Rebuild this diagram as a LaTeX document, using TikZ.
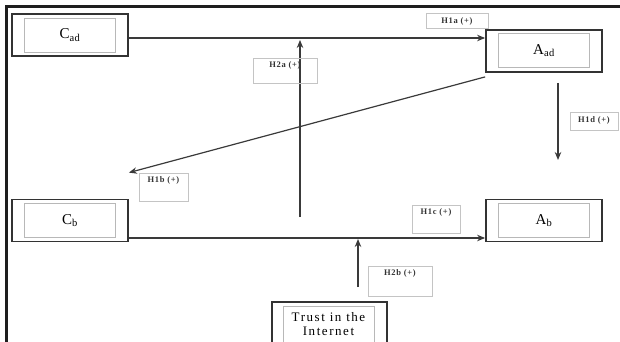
\documentclass[tikz,border=0pt]{standalone}
\usepackage{fontspec}
\setmainfont{Liberation Serif}
\usepackage{tikz}
\usepackage{xcolor}
\usetikzlibrary{arrows.meta}
\definecolor{framecolor}{HTML}{1e1e1e}
\definecolor{boxcolor}{HTML}{333333}
\definecolor{innercolor}{HTML}{b8b8b8}
\definecolor{linkcolor}{HTML}{3a3a3a}
\definecolor{tagcolor}{HTML}{c4c4c4}

\tikzset{
    outerbox/.style = {draw = boxcolor, line width = 1.8pt, rectangle, minimum width = 116pt, minimum height = 42pt},
    innerbox/.style = {draw = innercolor, line width = 0.8pt, rectangle, minimum width = 91pt, minimum height = 34pt, font = \fontsize{15}{16}\selectfont\addfontfeature{LetterSpace=4}},
    tagbox/.style = {draw = tagcolor, line width = 0.7pt, rectangle, anchor = north, inner sep = 0pt, text height = 9pt, text = black!80, font = \fontsize{8.5}{9}\selectfont\bfseries\addfontfeature{LetterSpace=8}},
    link/.style = {-{Stealth[length = 8pt, width = 6.5pt]}, line width = 1.2pt, color = linkcolor}
}

\begin{document}
\begin{tikzpicture}[x = 1pt, y = -1pt]
        \useasboundingbox (0, 0) rectangle (620, 342);
        % Frame
        \draw [line width = 2.5pt, color = framecolor] (6.5, 350) |- (630, 6.5);

        % Nodes
        \node [outerbox] (cad) at (70, 35) {};
        \node [innerbox] (cadin) at (70, 35) {C\textsubscript{ad}};
        \node [outerbox] (aad) at (544, 51) {};
        \node [innerbox] (aadin) at (544, 50.5) {A\textsubscript{ad}};
        \node [outerbox] (cb) at (70, 220.5) {};
        \node [innerbox] (cbin) at (70, 220.5) {C\textsubscript{b}};
        \node [outerbox] (ab) at (544, 220.5) {};
        \node [innerbox] (abin) at (544, 220.5) {A\textsubscript{b}};
        \node [outerbox, minimum width = 115pt, minimum height = 46pt] (trust) at (329.5, 325) {};
        \node [innerbox, minimum height = 36pt, align = center, font = \fontsize{13}{14}\selectfont\addfontfeature{LetterSpace=12}] (trustin) at (328.5, 324) {Trust in the\\Internet};

        % Free ends
        \coordinate (h2afrom) at (300, 217);
        \coordinate (h2ato) at (300, 40);
        \coordinate (h1dfrom) at (558, 83);
        \coordinate (h1dto) at (558, 160);
        \coordinate (h2bfrom) at (358, 287);
        \coordinate (h2bto) at (358, 239);

        % Draw the links
        \draw [link] (cad.east |- 0, 38) -- (aad.west |- 0, 38);
        \draw [link] ([yshift = -4pt]aad.south west) -- ([yshift = 26pt]cb.north east);
        \draw [link] (cb.east |- 0, 238) -- (ab.west |- 0, 238);
        \draw [link] (h2afrom) -- (h2ato);
        \draw [link] (h1dfrom) -- (h1dto);
        \draw [link] (h2bfrom) -- (h2bto);

        % Hypothesis tags
        \node [tagbox, minimum width = 62pt, minimum height = 15pt, text height = 7pt, text depth = 2pt] (h1a) at (457, 13) {H1a (+)};
        \node [tagbox, minimum width = 64pt, minimum height = 25pt, text depth = 16pt] (h2a) at (285, 58) {H2a (+)};
        \node [tagbox, minimum width = 49pt, minimum height = 28pt, text depth = 19pt] (h1b) at (163.5, 173) {H1b (+)};
        \node [tagbox, minimum width = 48pt, minimum height = 18pt, text height = 8pt, text depth = 5pt] (h1d) at (594, 112) {H1d (+)};
        \node [tagbox, minimum width = 48pt, minimum height = 28pt, text depth = 19pt] (h1c) at (436, 205) {H1c (+)};
        \node [tagbox, minimum width = 64pt, minimum height = 30pt, text depth = 21pt] (h2b) at (400, 266) {H2b (+)};

    \end{tikzpicture}
\end{document}
